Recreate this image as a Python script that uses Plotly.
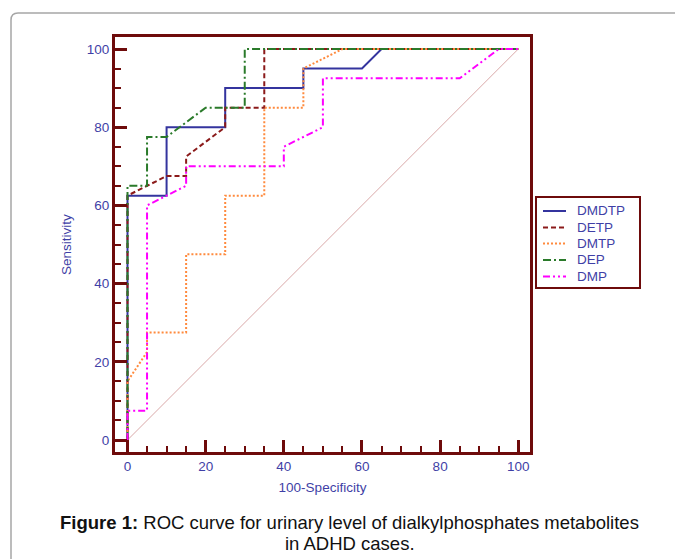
import plotly.graph_objects as go

# ROC curve data (100-Specificity, Sensitivity)
dmdtp_x = [0, 0, 10, 10, 25, 25, 45, 45, 60, 65, 100]
dmdtp_y = [0, 62.5, 62.5, 80, 80, 90, 90, 95, 95, 100, 100]

detp_x = [0, 0, 10, 15, 15, 25, 25, 35, 35, 100]
detp_y = [0, 62.5, 67.5, 67.5, 72.5, 80, 85, 85, 100, 100]

dmtp_x = [0, 0, 5, 5, 15, 15, 25, 25, 35, 35, 45, 45, 55, 100]
dmtp_y = [0, 15, 22.5, 27.5, 27.5, 47.5, 47.5, 62.5, 62.5, 85, 85, 95, 100, 100]

dep_x = [0, 0, 5, 5, 10, 20, 30, 30, 100]
dep_y = [0, 65, 65, 77.5, 77.5, 85, 85, 100, 100]

dmp_x = [0, 0, 5, 5, 15, 15, 40, 40, 50, 50, 85, 95, 100]
dmp_y = [0, 7.5, 7.5, 60, 65, 70, 70, 75, 80, 92.5, 92.5, 100, 100]

ref_x = [0, 100]
ref_y = [0, 100]

tick_vals = [0, 20, 40, 60, 80, 100]
series_names = ["DMDTP", "DETP", "DMTP", "DEP", "DMP"]

maroon = "#6e0b0b"
label_blue = "#3f3fa6"
FONT = "Liberation Sans, Arial, sans-serif"

fig = go.Figure()

fig.add_trace(go.Scatter(x=ref_x, y=ref_y, mode="lines", showlegend=False,
                         line=dict(color="#d9a8a8", width=1), hoverinfo="skip"))

series = [
    (series_names[0], dmdtp_x, dmdtp_y, "#34349e", "solid"),
    (series_names[1], detp_x, detp_y, "#8b1a1a", "5px,3px"),
    (series_names[2], dmtp_x, dmtp_y, "#ff8a3d", "2px,2px"),
    (series_names[3], dep_x, dep_y, "#2a7a2a", "8px,3px,2px,3px"),
    (series_names[4], dmp_x, dmp_y, "#ff00ff", "7px,3px,2px,3px,2px,3px"),
]
for name, xs, ys, col, dash in series:
    fig.add_trace(go.Scatter(x=xs, y=ys, mode="lines", name=name, showlegend=False,
                             line=dict(color=col, width=2, dash=dash)))

# page offset of the figure (body margin)
OFF = 8
L, R, T, B = 115, 530, 37, 452   # plot frame in page pixels
W, H = 683 - OFF, 559 - OFF

def px(p):
    return (p - L) / (R - L)

def py(p):
    return (B - p) / (B - T)

axis_common = dict(
    showline=True, linecolor=maroon, linewidth=3, mirror=True,
    ticks="inside", ticklen=12, tickwidth=3, tickcolor=maroon,
    tickvals=tick_vals, showgrid=False, zeroline=False,
    tickfont=dict(family=FONT, size=13.5, color=label_blue),
    minor=dict(dtick=5, ticks="inside", ticklen=6, tickwidth=2, tickcolor=maroon, showgrid=False),
    fixedrange=True,
)

fig.update_layout(
    width=W, height=H,
    margin=dict(l=L - OFF, r=683 - R, t=T - OFF, b=559 - B),
    plot_bgcolor="white", paper_bgcolor="white",
    xaxis=dict(range=[(L - 127.5) / 3.908, (R - 127.5) / 3.908],
               title=dict(text="100-Specificity", standoff=10,
                          font=dict(family=FONT, size=13.5, color=label_blue)),
               **axis_common),
    yaxis=dict(range=[(440 - B) / 3.91, (440 - T) / 3.91],
               title=dict(text="Sensitivity", standoff=13,
                          font=dict(family=FONT, size=13.5, color=label_blue)),
               **axis_common),
    showlegend=False,
)

# outer rounded border (gray)
x0, y0 = px(11), py(13)
rx, ry = 7 / (R - L), 7 / (B - T)
fig.add_shape(type="path", xref="paper", yref="paper",
              path=f"M {x0},{py(600)} L {x0},{y0 - ry} Q {x0},{y0} {x0 + rx},{y0} L {px(700)},{y0}",
              line=dict(color="#a6a6a6", width=1.5))

# legend box
fig.add_shape(type="rect", xref="paper", yref="paper",
              x0=px(536), x1=px(640), y0=py(288), y1=py(197),
              line=dict(color=maroon, width=2), fillcolor="white")
rows = [211, 227.5, 243.5, 260, 276.5]
for (name, xs, ys, col, dash), ry_ in zip(series, rows):
    fig.add_shape(type="line", xref="paper", yref="paper",
                  x0=px(543), x1=px(566), y0=py(ry_), y1=py(ry_),
                  line=dict(color=col, width=2, dash=dash))
    fig.add_annotation(xref="paper", yref="paper", x=px(575), y=py(ry_),
                       xanchor="left", yanchor="middle", text=name, showarrow=False,
                       font=dict(family=FONT, size=13.5, color=label_blue))

fig.add_annotation(xref="paper", yref="paper", x=px(349), y=py(522), xanchor="center", yanchor="middle",
                   text="<b>Figure 1:</b> ROC curve for urinary level of dialkylphosphates metabolites",
                   showarrow=False, font=dict(family=FONT, size=18.5, color="#111111"))
fig.add_annotation(xref="paper", yref="paper", x=px(350), y=py(543), xanchor="center", yanchor="middle",
                   text="in ADHD cases.",
                   showarrow=False, font=dict(family=FONT, size=18.5, color="#111111"))

fig.write_html("out.html")
